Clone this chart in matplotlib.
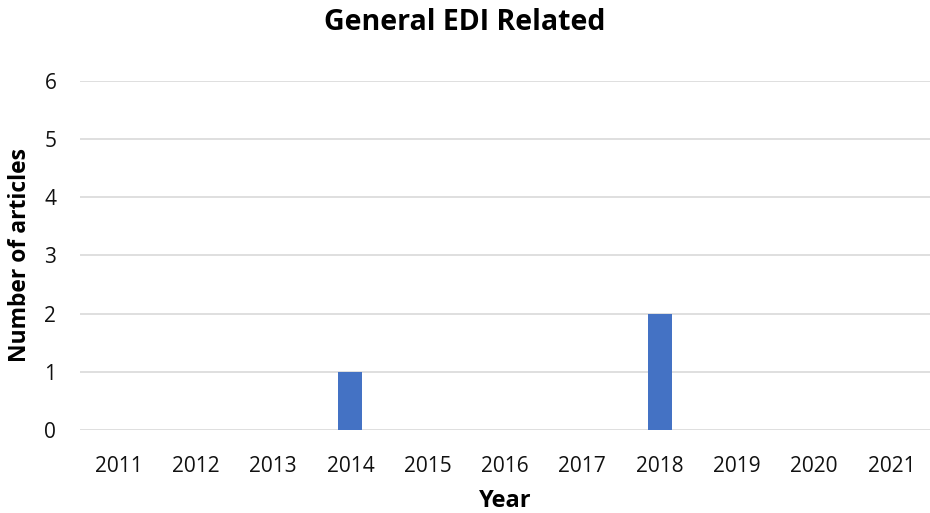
import matplotlib
matplotlib.use("Agg")
import matplotlib.pyplot as plt
import numpy as np

plt.rcParams['font.family'] = ['Open Sans', 'DejaVu Sans']

years = ['2011', '2012', '2013', '2014', '2015', '2016', '2017', '2018', '2019', '2020', '2021']
articles = [0, 0, 0, 1, 0, 0, 0, 2, 0, 0, 0]

fig = plt.figure(figsize=(9.3, 5.13), dpi=100)
ax = fig.add_axes([0.086, 0.162, 0.914, 0.680])

x = np.arange(len(years))
ax.bar(x, articles, width=0.31, color='#4472C4', zorder=3)

ax.set_xlim(-0.5, len(years) - 0.5)
ax.set_ylim(0, 6)
ax.set_yticks(range(0, 7))
ax.set_xticks(x)
ax.set_xticklabels(years)
ax.yaxis.grid(True, color='#D9D9D9', linewidth=1.2, zorder=0)
for s in ax.spines.values():
    s.set_visible(False)
ax.tick_params(axis='both', length=0, labelsize=15, colors='#111111')
ax.tick_params(axis='x', pad=19)
ax.tick_params(axis='y', pad=17)

# title sits at the middle of the figure, not the axes
fig.text(0.5, 0.957, 'General EDI Related', fontsize=20.5, fontweight='bold',
         ha='center', va='center')
ax.set_xlabel('Year', fontsize=17, fontweight='bold', va='center')
ax.xaxis.set_label_coords(0.5, -0.203)
ax.set_ylabel('Number of articles', fontsize=16.5, fontweight='bold', va='center')
ax.yaxis.set_label_coords(-0.071, 0.5)

fig.savefig('out.png', dpi=100)
